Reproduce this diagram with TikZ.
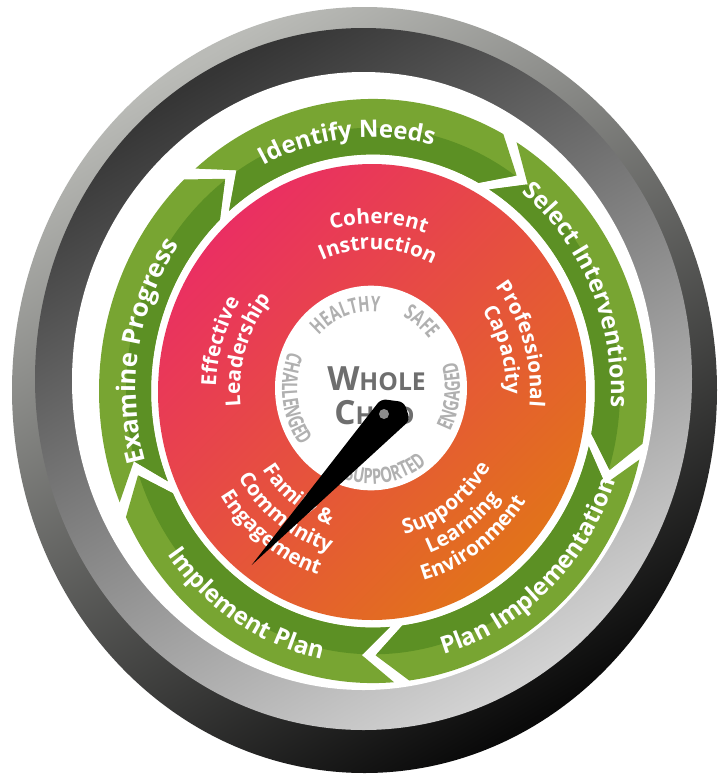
\documentclass[tikz,border=0pt]{standalone}
\usepackage{fontspec}
\setmainfont{Open Sans}
\newfontfamily\condfont{Open Sans}[FakeStretch=0.7]
\usetikzlibrary{decorations.text}
\definecolor{glight}{HTML}{78A532}
\definecolor{gdark}{HTML}{5C9024}
\definecolor{redA}{HTML}{EA2F62}
\definecolor{redB}{HTML}{E2731A}
\definecolor{labelgray}{HTML}{B0B0B0}
\definecolor{wcgray}{HTML}{6E6E6E}
\definecolor{bezlight}{HTML}{BABBB7}
\definecolor{bezdark}{HTML}{0A0A0A}
\definecolor{bandA}{HTML}{353535}
\definecolor{bandB}{HTML}{D2D2D2}
\definecolor{pivotgray}{HTML}{8C8C8C}
\newcommand\gfmt{\fontsize{18}{18}\selectfont\bfseries\color{white}}
\newcommand\gbigfmt{\fontsize{19.2}{19.2}\selectfont\bfseries\color{white}}
\newcommand\rfmt{\fontsize{15.5}{15.5}\selectfont\bfseries\color{white}}
\newcommand\lfmt{\condfont\fontsize{16}{16}\selectfont\bfseries\color{labelgray}}
% clockwise arc text (tops outward): center angle, baseline radius, format, text
\newcommand\cwlabel[4]{%
  \path[decorate, decoration={text along path, text align=center, text={|#3|#4}}]
    ({#1+80}:#2) arc[start angle={#1+80}, end angle={#1-80}, radius=#2];}
% counterclockwise arc text (tops inward)
\newcommand\ccwlabel[4]{%
  \path[decorate, decoration={text along path, text align=center, text={|#3|#4}}]
    ({#1-80}:#2) arc[start angle={#1-80}, end angle={#1+80}, radius=#2];}
\begin{document}
\begin{tikzpicture}[x=0.75pt,y=-0.75pt]
\useasboundingbox (0,0) rectangle (725,779);
\fill[white] (0,0) rectangle (725,779);
% bezel
\shade[top color=bezlight, bottom color=bezdark, shading angle=30] (364.5,390) ellipse[x radius=352.5, y radius=383];
\shade[top color=bandA, bottom color=bandB, shading angle=30] (363.5,379) ellipse[x radius=328.5, y radius=351];
\fill[white] (363.5,381) ellipse[x radius=291.5, y radius=309];
% red disc
\shade[top color=redA, bottom color=redB, shading angle=45] (372,392) ellipse[x radius=214, y radius=228];
\begin{scope}[shift={(373,391)}, yscale=-1.066]
  \foreach \S/\E in {132/60, 60/-12, -12/-84, -84/-156, -156/-228}{
    \pgfmathsetmacro\qa{\S-1.6}
    \pgfmathsetmacro\qb{\E+1.6}
    \pgfmathsetmacro\qt{\E+1.6-7}
    \pgfmathsetmacro\qn{\S-1.6-7}
    \fill[glight] (\qa:274) arc[start angle=\qa, end angle=\qb, radius=274] -- (\qt:248) -- (\qb:222) arc[start angle=\qb, end angle=\qa, radius=222] -- (\qn:248) -- cycle;
    \begin{scope}
      \clip (\qa:274) arc[start angle=\qa, end angle=\qb, radius=274] -- (\qt:248) -- (\qb:222) arc[start angle=\qb, end angle=\qa, radius=222] -- (\qn:248) -- cycle;
      \fill[gdark] (0,0) circle[radius=247];
    \end{scope}
  }
  % green labels
  \cwlabel{96}{238}{\gfmt}{Identify Needs}
  \cwlabel{25}{238}{\gfmt}{Select Interventions}
  \ccwlabel{-48}{257}{\gfmt}{Plan Implementation}
  \ccwlabel{-121}{257}{\gfmt}{Implement Plan}
  \cwlabel{170}{237}{\gbigfmt}{Examine Progress}
  % red labels
  \cwlabel{88}{157}{\rfmt}{Coherent}
  \cwlabel{88}{133}{\rfmt}{Instruction}
  \cwlabel{17.5}{157}{\rfmt}{Professional}
  \cwlabel{17.5}{133}{\rfmt}{Capacity}
  \cwlabel{162}{157}{\rfmt}{Effective}
  \cwlabel{162}{133}{\rfmt}{Leadership}
  \ccwlabel{-55.5}{138}{\rfmt}{Supportive}
  \ccwlabel{-55.5}{162}{\rfmt}{Learning}
  \ccwlabel{-55.5}{185}{\rfmt}{Environment}
  \ccwlabel{-126}{133}{\rfmt}{Family {\&}}
  \ccwlabel{-126}{157}{\rfmt}{Community}
  \ccwlabel{-126}{181}{\rfmt}{Engagement}
\end{scope}
% white centre
\begin{scope}[shift={(371,388)}, yscale=-1.066]
  \fill[white] (0,0) circle[radius=96];
  \cwlabel{109}{72}{\lfmt}{HEALTHY}
  \cwlabel{53}{74}{\lfmt}{SAFE}
  \ccwlabel{-6}{89}{\lfmt}{ENGAGED}
  \ccwlabel{-80}{90}{\lfmt}{SUPPORTED}
  \ccwlabel{188}{89}{\lfmt}{CHALLENGED}
\end{scope}
\node[anchor=base west, text=wcgray, inner sep=0] (whole) at (327,390) {\bfseries\fontsize{25}{25}\selectfont W\fontsize{18.5}{18.5}\selectfont HOLE};
\node[anchor=base west, text=wcgray, inner sep=0] (child) at (334,424) {\bfseries\fontsize{25}{25}\selectfont C\fontsize{18.5}{18.5}\selectfont HILD};
% needle
\fill[black] (251.7,565) [rounded corners=4]-- (381,399) -- (404,402) -- (410,420) [sharp corners]-- cycle;
\fill[pivotgray] (384,414) circle[radius=5];
\end{tikzpicture}
\end{document}
